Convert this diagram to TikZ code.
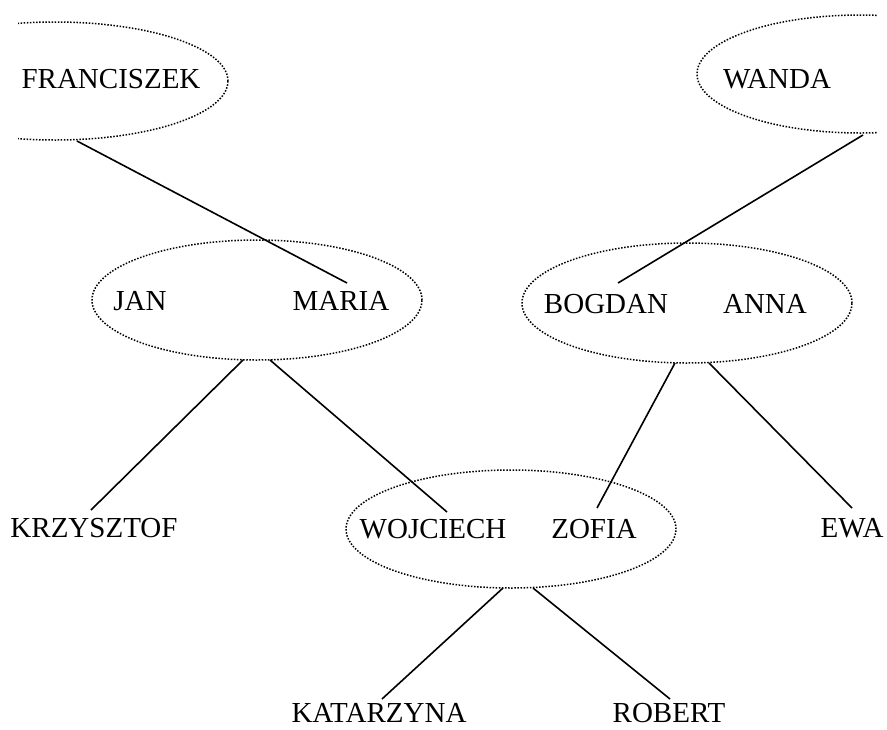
\documentclass[tikz,border=0pt]{standalone}
\usepackage{fontspec}
\setmainfont{Liberation Serif}
\usetikzlibrary{shapes.geometric,calc}
\begin{document}
\begin{tikzpicture}[x=1pt,y=-1pt,
  fam/.style={ellipse,draw,line width=1.5pt,dash pattern=on 1.5pt off 1.6pt,inner sep=0pt},
  person/.style={anchor=base,inner sep=0pt,font=\fontsize{29}{34}\selectfont},
  conn/.style={line width=1.6pt}]
\useasboundingbox (0,0) rectangle (887,729);
% partial ellipses
\begin{scope}
  \clip (18,0) rectangle (887,729);
  \node[fam,minimum width=346pt,minimum height=118pt] (fe) at (55,81) {};
\end{scope}
\begin{scope}
  \clip (0,0) rectangle (877,729);
  \node[fam,minimum width=326pt,minimum height=118pt] (we) at (860,74) {};
\end{scope}
\node[fam,minimum width=330pt,minimum height=120pt] (jm) at (257,300) {};
\node[fam,minimum width=330pt,minimum height=120pt] (ba) at (687,303) {};
\node[fam,minimum width=330pt,minimum height=118pt] (wz) at (511,529) {};
% names
\node[person] (fr) at (111,88) {FRANCISZEK};
\node[person] (wa) at (777,88) {WANDA};
\node[person] (jan) at (140,310) {JAN};
\node[person] (maria) at (341,310) {MARIA};
\node[person] (bog) at (606,313) {BOGDAN};
\node[person] (anna) at (765,313) {ANNA};
\node[person] (woj) at (433,538) {WOJCIECH};
\node[person] (zof) at (594,538) {ZOFIA};
\node[person] (krz) at (94,537) {KRZYSZTOF};
\node[person] (ewa) at (852,537) {EWA};
\node[person] (kat) at (379,722) {KATARZYNA};
\node[person] (rob) at (669,722) {ROBERT};
% connectors
\draw[conn] ($(fe.center)+(22,60)$) -- ($(maria.base)+(6,-27)$);
\draw[conn] ($(we.center)+(3,61)$) -- ($(bog.base)+(12,-30)$);
\draw[conn] ($(jm.center)+(-14,60)$) -- ($(krz.base)+(-3,-27)$);
\draw[conn] ($(jm.center)+(13,60)$) -- ($(woj.base)+(14,-26)$);
\draw[conn] ($(ba.center)+(-12,60)$) -- ($(zof.base)+(3,-30)$);
\draw[conn] ($(ba.center)+(22,60)$) -- ($(ewa.base)+(0,-29)$);
\draw[conn] ($(wz.center)+(-8,59)$) -- ($(kat.base)+(3,-23)$);
\draw[conn] ($(wz.center)+(22,59)$) -- ($(rob.base)+(1,-23)$);
\end{tikzpicture}
\end{document}
